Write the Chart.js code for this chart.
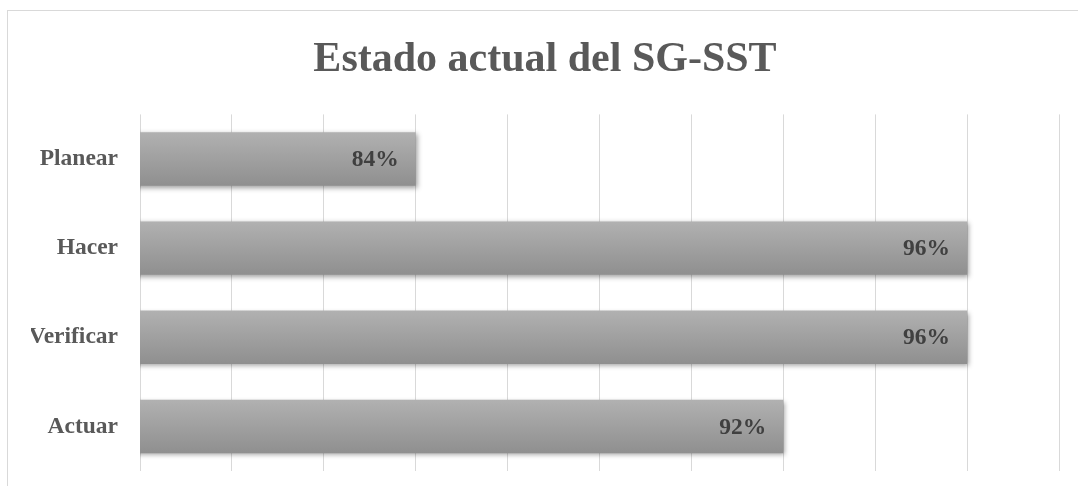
<!DOCTYPE html>
<html>
<head>
<meta charset="utf-8">
<script src="https://cdn.jsdelivr.net/npm/chart.js@4.4.1/dist/chart.umd.min.js"></script>
<style>
  html, body { margin: 0; padding: 0; background: #ffffff; }
  #wrap { width: 1078px; height: 486px; position: relative; }
</style>
</head>
<body>
<div id="wrap"><canvas id="c" width="1078" height="486"></canvas></div>
<script>
const categories = ['Planear', 'Hacer', 'Verificar', 'Actuar'];
const values = [0.84, 0.96, 0.96, 0.92];
const chartTitle = 'Estado actual del SG-SST';
const axisMin = 0.78;
const axisMax = 0.98;
const axisStep = 0.02;

const framePlugin = {
  id: 'frame',
  beforeDraw(chart) {
    const ctx = chart.ctx;
    ctx.save();
    ctx.fillStyle = '#ffffff';
    ctx.fillRect(0, 0, chart.width, chart.height);
    ctx.strokeStyle = '#d9d9d9';
    ctx.lineWidth = 1;
    ctx.strokeRect(7.5, 10.5, 1200, 600);
    ctx.restore();
  }
};

const barStylePlugin = {
  id: 'barStyle',
  beforeDatasetsDraw(chart) {
    const ctx = chart.ctx;
    const meta = chart.getDatasetMeta(0);
    meta.data.forEach(el => {
      const h = el.height;
      const g = ctx.createLinearGradient(0, el.y - h / 2, 0, el.y + h / 2);
      g.addColorStop(0, '#b1b1b1');
      g.addColorStop(1, '#8f8f8f');
      el.options = Object.assign({}, el.options, { backgroundColor: g });
    });
    ctx.save();
    ctx.shadowColor = 'rgba(0,0,0,0.38)';
    ctx.shadowBlur = 5;
    ctx.shadowOffsetX = 2;
    ctx.shadowOffsetY = 2;
  },
  afterDatasetsDraw(chart) {
    const ctx = chart.ctx;
    ctx.restore();
    const meta = chart.getDatasetMeta(0);
    ctx.save();
    ctx.font = 'bold 23.5px "Liberation Serif", "Times New Roman", serif';
    ctx.fillStyle = '#404040';
    ctx.textAlign = 'right';
    ctx.textBaseline = 'middle';
    meta.data.forEach((el, i) => {
      ctx.fillText(Math.round(values[i] * 100) + '%', el.x - 17, el.y + 1);
    });
    ctx.restore();
  }
};

new Chart(document.getElementById('c'), {
  type: 'bar',
  data: {
    labels: categories,
    datasets: [{
      data: values,
      backgroundColor: '#a0a0a0',
      borderWidth: 0,
      categoryPercentage: 1,
      barPercentage: 0.6
    }]
  },
  options: {
    indexAxis: 'y',
    responsive: false,
    animation: false,
    layout: { padding: { left: 31, right: 19, top: 0, bottom: 15 } },
    plugins: {
      legend: { display: false },
      tooltip: { enabled: false },
      title: {
        display: true,
        text: chartTitle,
        color: '#595959',
        font: { family: '"Liberation Serif", "Times New Roman", serif', size: 42, weight: 'bold', lineHeight: 1.2 },
        padding: { top: 35, bottom: 29 }
      }
    },
    scales: {
      x: {
        min: axisMin,
        max: axisMax,
        afterFit(scale) { scale.height = 0; scale.paddingLeft = 0; scale.paddingRight = 0; },
        ticks: { display: false, stepSize: axisStep },
        grid: { color: '#d9d9d9', lineWidth: 1, drawTicks: false },
        border: { display: false }
      },
      y: {
        clip: false,
        afterFit(scale) { scale.width = 109; scale.paddingTop = 0; scale.paddingBottom = 0; },
        ticks: {
          color: '#595959',
          padding: 22,
          font: { family: '"Liberation Serif", "Times New Roman", serif', size: 23.5, weight: 'bold' }
        },
        grid: { display: false, drawTicks: false },
        border: { display: false }
      }
    }
  },
  plugins: [framePlugin, barStylePlugin]
});
</script>
</body>
</html>
